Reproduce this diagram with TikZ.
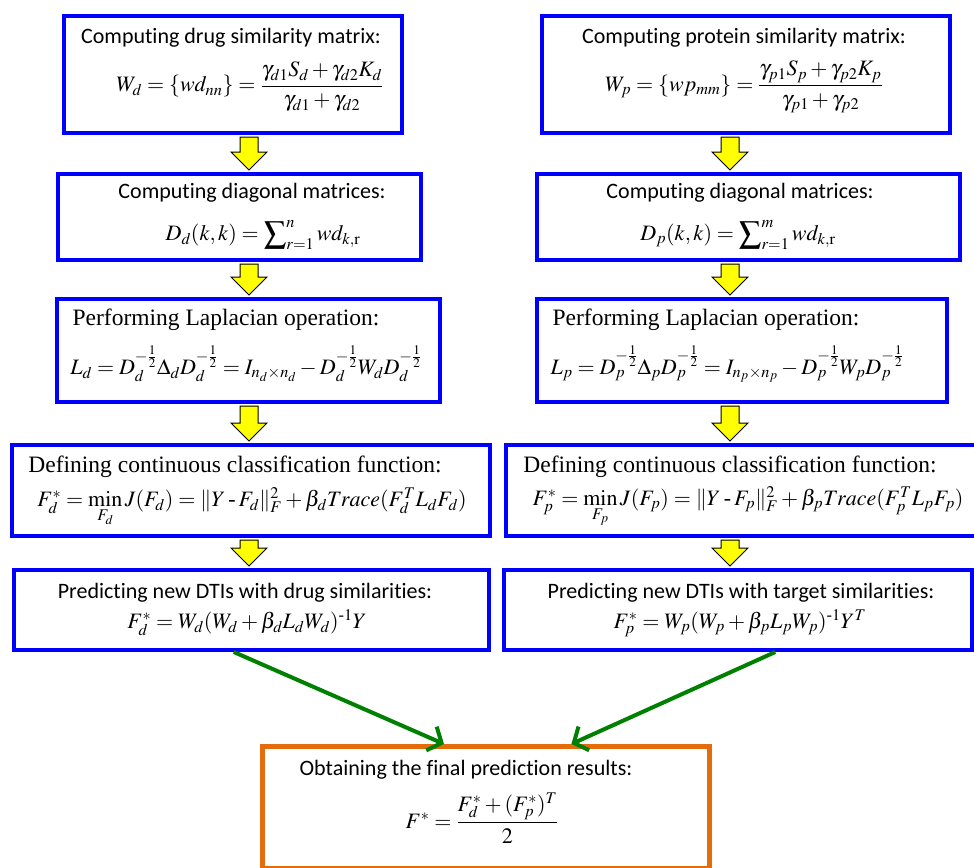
\documentclass[tikz,border=0pt]{standalone}
\usepackage{amsmath}
\usepackage{mathptmx}
\usepackage[no-math]{fontspec}
\setmainfont{Liberation Serif}
\newfontfamily\carl[Ligatures=NoCommon]{Carlito}
\usetikzlibrary{calc,arrows.meta}

\definecolor{boxblue}{RGB}{0,0,255}
\definecolor{boxorange}{RGB}{228,108,10}
\definecolor{flowgreen}{RGB}{0,128,0}
\definecolor{blockyellow}{RGB}{255,255,0}

% yellow block arrow from the lower edge of #2 to the upper edge of #3 at x = #1
\newcommand\blockarrow[3]{%
  \draw[yblock] let \p1=(#2.south), \p2=(#3.north) in
    (#1-9,{\y1-2pt}) -- (#1+9,{\y1-2pt}) -- (#1+9,{\y2+20pt}) -- (#1+18,{\y2+20pt})
    -- (#1,{\y2+2pt}) -- (#1-18,{\y2+20pt}) -- (#1-9,{\y2+20pt}) -- cycle;}

\begin{document}
\begin{tikzpicture}[x=1pt,y=-1pt,
  stepbox/.style={draw=boxblue,line width=4pt,anchor=north west,inner sep=0pt,fill=white},
  finalbox/.style={draw=boxorange,line width=5pt,anchor=north west,inner sep=0pt,fill=white},
  cali/.style={font=\carl\fontsize{22}{26}\selectfont,inner sep=0pt},
  tms/.style={font=\fontsize{23.5}{28}\selectfont,inner sep=0pt},
  eq/.style={font=\fontsize{22}{26}\selectfont,inner sep=0pt},
  yblock/.style={fill=blockyellow,draw=black,line width=1pt,line join=miter},
  garrow/.style={draw=flowgreen,line width=4pt,-{Straight Barb[length=11pt,width=26pt,line width=4pt]}}]
\useasboundingbox (0,0) rectangle (974,867);

% ---- drug column ----
\node[stepbox,minimum width=338pt,minimum height=117pt] (L1) at (62,14) {};
\node[stepbox,minimum width=363pt,minimum height=86pt]  (L2) at (56,172) {};
\node[stepbox,minimum width=383pt,minimum height=103pt] (L3) at (55,297) {};
\node[stepbox,minimum width=478pt,minimum height=91pt]  (L4) at (10,443) {};
\node[stepbox,minimum width=475pt,minimum height=80pt]  (L5) at (12,568) {};

% ---- protein column ----
\node[stepbox,minimum width=408pt,minimum height=117pt] (R1) at (540,14) {};
\node[stepbox,minimum width=423pt,minimum height=86pt]  (R2) at (535,172) {};
\node[stepbox,minimum width=410pt,minimum height=103pt] (R3) at (535,297) {};
\node[stepbox,minimum width=472pt,minimum height=91pt]  (R4) at (504,443) {};
\node[stepbox,minimum width=468pt,minimum height=80pt]  (R5) at (502,568) {};

% ---- final step ----
\node[finalbox,minimum width=447pt,minimum height=122pt] (F) at (260,744) {};

% ---- texts, drug column ----
\node[cali] (L1t) at (231,38) {Computing drug similarity matrix:};
\node[eq]   (L1f) at (250,87) {$W_d=\{wd_{nn}\}=\dfrac{\gamma_{d1}S_d+\gamma_{d2}K_d}{\gamma_{d1}+\gamma_{d2}}$};
\node[cali] (L2t) at (252,193) {Computing diagonal matrices:};
\node[eq]   (L2f) at (263,235) {$D_d(k,k)=\displaystyle\sum\nolimits_{r=1}^{n} wd_{k,\mathrm{r}}$};
\node[tms]  (L3t) at (226,320) {Performing Laplacian operation:};
\node[eq]   (L3f) at (246,364) {$L_d=D_d^{-\frac{1}{2}}\Delta_d D_d^{-\frac{1}{2}}=I_{n_d\times n_d}-D_d^{-\frac{1}{2}}W_d D_d^{-\frac{1}{2}}$};
\node[tms]  (L4t) at (235,467) {Defining continuous classification function:};
\node[eq]   (L4f) at (252,507) {$F_d^*=\min\limits_{F_d} J(F_d)=\| Y\mathbin{\text{-}}F_d \|_F^2+\beta_d Trace(F_d^T L_d F_d)$};
\node[cali] (L5t) at (245,593) {Predicting new DTIs with drug similarities:};
\node[eq]   (L5f) at (247,623) {$F_d^*=W_d(W_d+\beta_d L_d W_d)^{\text{-}1}Y$};

% ---- texts, protein column ----
\node[cali] (R1t) at (744,38) {Computing protein similarity matrix:};
\node[eq]   (R1f) at (744,87) {$W_p=\{wp_{mm}\}=\dfrac{\gamma_{p1}S_p+\gamma_{p2}K_p}{\gamma_{p1}+\gamma_{p2}}$};
\node[cali] (R2t) at (740,193) {Computing diagonal matrices:};
\node[eq]   (R2f) at (738,235) {$D_p(k,k)=\displaystyle\sum\nolimits_{r=1}^{m} wd_{k,\mathrm{r}}$};
\node[tms]  (R3t) at (706,320) {Performing Laplacian operation:};
\node[eq]   (R3f) at (727,364) {$L_p=D_p^{-\frac{1}{2}}\Delta_p D_p^{-\frac{1}{2}}=I_{n_p\times n_p}-D_p^{-\frac{1}{2}}W_p D_p^{-\frac{1}{2}}$};
\node[tms]  (R4t) at (730,467) {Defining continuous classification function:};
\node[eq]   (R4f) at (748,507) {$F_p^*=\min\limits_{F_p} J(F_p)=\| Y\mathbin{\text{-}}F_p \|_F^2+\beta_p Trace(F_p^T L_p F_p)$};
\node[cali] (R5t) at (741,593) {Predicting new DTIs with target similarities:};
\node[eq]   (R5f) at (740,623) {$F_p^*=W_p(W_p+\beta_p L_p W_p)^{\text{-}1}Y^T$};

% ---- final text ----
\node[cali] (Ft) at (466,770) {Obtaining the final prediction results:};
\node[eq]   (Ff) at (482,818) {$F^*=\dfrac{F_d^*+(F_p^*)^T}{2}$};

% ---- yellow block arrows ----
\blockarrow{249}{L1}{L2}
\blockarrow{249}{L2}{L3}
\blockarrow{249}{L3}{L4}
\blockarrow{249}{L4}{L5}
\blockarrow{730}{R1}{R2}
\blockarrow{730}{R2}{R3}
\blockarrow{730}{R3}{R4}
\blockarrow{730}{R4}{R5}

% ---- green arrows into the final step ----
\draw[garrow] ($(L5.south west)!0.463!(L5.south east)$) -- ($(F.north west)!0.407!(F.north east)$);
\draw[garrow] ($(R5.south west)!0.579!(R5.south east)$) -- ($(F.north west)!0.689!(F.north east)$);
\end{tikzpicture}
\end{document}
